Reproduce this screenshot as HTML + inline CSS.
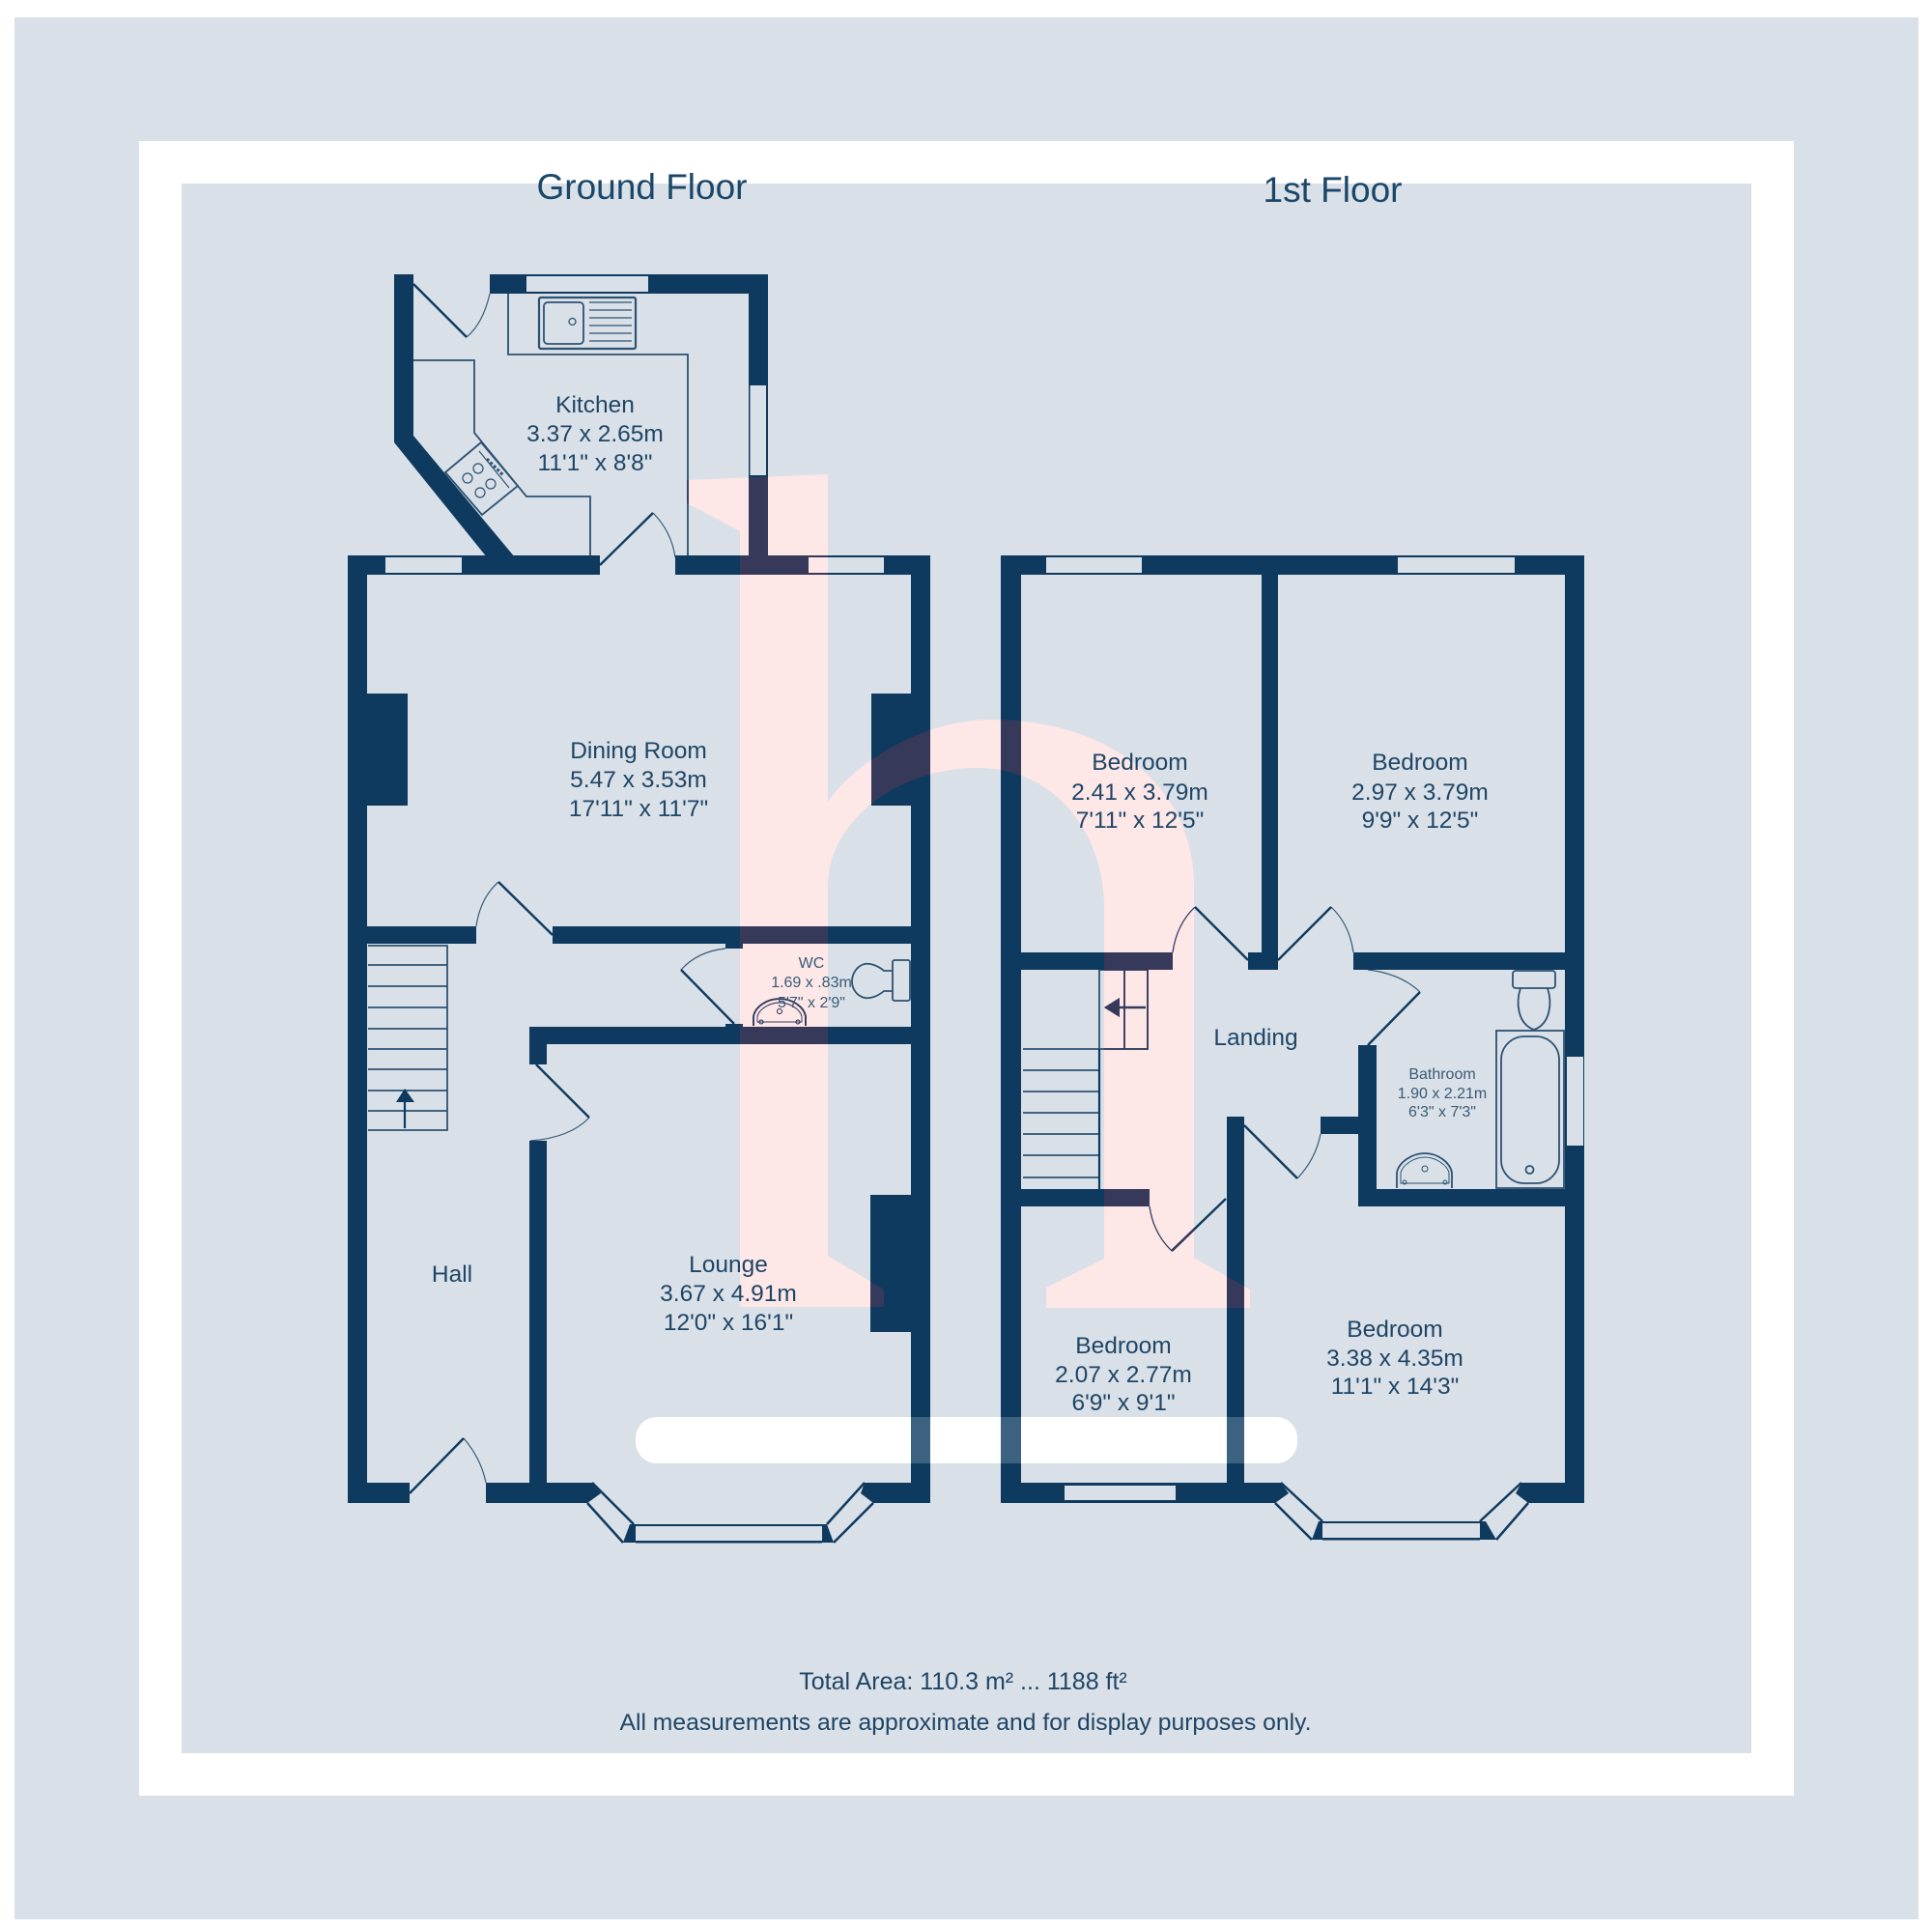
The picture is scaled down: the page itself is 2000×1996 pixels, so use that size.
<!DOCTYPE html>
<html><head><meta charset="utf-8"><style>
html,body{margin:0;padding:0;background:#fff}
svg{display:block}
text{font-family:"Liberation Sans",sans-serif;fill:#1f4566;text-anchor:middle;font-size:24.5px}
.s{font-size:16px;fill:#3a5a76}
.h{font-size:37px;fill:#1a4668}
</style></head><body>
<svg xmlns="http://www.w3.org/2000/svg" width="2000" height="1996" viewBox="0 0 2000 1996">
<defs>
<clipPath id="logo"><path id="logoP" d="M711,497 L857,491 V830 C880,795 950,745 1026,745 C1150,745 1236,815 1236,917 V1302 L1294,1335 V1354 H1083 V1333 L1143,1303 V940 C1143,860 1090,795 1012,795 C930,795 857,850 857,917 V1300 L915,1335 V1353 H766 V550 L711,521 Z"/></clipPath>
<clipPath id="pill"><rect x="658" y="1467" width="685" height="48" rx="22" ry="22"/></clipPath>
<g id="walls">
<g fill="currentColor">
<!-- kitchen -->
<polygon points="408,284 428,284 428,451 533,577 504,577 408,458"/>
<rect x="507" y="284" width="288" height="2"/>
<rect x="507" y="284" width="38" height="20"/>
<rect x="671" y="284" width="124" height="20"/>
<rect x="545" y="302" width="126" height="2"/>
<rect x="775" y="284" width="20" height="115"/>
<rect x="775" y="492" width="20" height="85"/>
<rect x="775" y="399" width="1.5" height="93"/><rect x="793" y="399" width="2" height="93"/>
<!-- ground top wall -->
<rect x="360" y="575" width="39" height="20"/>
<rect x="478" y="575" width="143" height="20"/>
<rect x="699" y="575" width="138" height="20"/>
<rect x="915" y="575" width="48" height="20"/>
<rect x="399" y="575" width="79" height="2"/><rect x="399" y="593" width="79" height="2"/>
<rect x="837" y="575" width="78" height="2"/><rect x="837" y="593" width="78" height="2"/>
<!-- ground outer walls -->
<rect x="360" y="575" width="20" height="981"/>
<rect x="943" y="575" width="20" height="981"/>
<rect x="380" y="718" width="42" height="116"/>
<rect x="902" y="718" width="41" height="116"/>
<rect x="901" y="1237" width="42" height="142"/>
<!-- internal ground -->
<rect x="380" y="959" width="113" height="18"/>
<rect x="572" y="959" width="371" height="18"/>
<rect x="751" y="977" width="18" height="5"/>
<rect x="751" y="1060" width="18" height="3"/>
<rect x="548" y="1063" width="395" height="18"/>
<rect x="548" y="1081" width="18" height="21"/>
<rect x="548" y="1181" width="18" height="354"/>
<!-- ground bottom -->
<rect x="360" y="1535" width="64" height="21"/>
<polygon points="503,1535 613,1535 622,1546 608,1556 503,1556"/>
<polygon points="652,1578 658,1578 658,1597 645,1597"/>
<rect x="658" y="1578" width="193" height="2"/><rect x="658" y="1595" width="193" height="2.5"/>
<polygon points="851,1578 856,1578 863,1597 851,1597"/>
<polygon points="895,1535 963,1535 963,1556 904,1556 891,1546"/>
<!-- first floor outer -->
<rect x="1036" y="575" width="47" height="20"/>
<rect x="1182" y="575" width="265" height="20"/>
<rect x="1568" y="575" width="72" height="20"/>
<rect x="1083" y="575" width="99" height="2"/><rect x="1083" y="593" width="99" height="2"/>
<rect x="1447" y="575" width="121" height="2"/><rect x="1447" y="593" width="121" height="2"/>
<rect x="1036" y="575" width="21" height="981"/>
<rect x="1620" y="575" width="20" height="519"/>
<rect x="1620" y="1186" width="20" height="370"/>
<rect x="1620" y="1094" width="2" height="92"/><rect x="1639" y="1094" width="1" height="92"/>
<rect x="1306" y="575" width="17" height="429"/>
<rect x="1292" y="986" width="31" height="18"/>
<rect x="1057" y="986" width="157" height="18"/>
<rect x="1401" y="986" width="219" height="18"/>
<rect x="1406" y="1082" width="19" height="167"/>
<rect x="1367" y="1156" width="39" height="18"/>
<rect x="1406" y="1231" width="214" height="18"/>
<rect x="1270" y="1156" width="18" height="400"/>
<rect x="1057" y="1231" width="133" height="18"/>
<!-- first bottom -->
<rect x="1036" y="1535" width="66" height="21"/>
<rect x="1102" y="1535" width="115" height="3"/><rect x="1102" y="1553" width="115" height="3"/>
<polygon points="1217,1535 1326,1535 1334,1546 1320,1556 1217,1556"/>
<polygon points="1365,1575 1369,1575 1369,1594 1358,1594"/>
<rect x="1369" y="1575" width="163" height="2"/><rect x="1369" y="1592" width="163" height="2.5"/>
<polygon points="1532,1575 1538,1575 1549,1594 1532,1594"/>
<polygon points="1575,1535 1640,1535 1640,1556 1582,1556 1569,1546"/>
<!-- stair arrows -->
<polygon points="419,1127 410,1141 429,1141"/>
<polygon points="1143,1043 1159,1033 1159,1053"/>
</g>
<g fill="none" stroke="currentColor">
<path stroke-width="2.5" d="M613,1535 L656,1578 M608,1556 L645,1597 M904,1556 L863,1597 M895,1535 L856,1578 M1326,1535 L1369,1575 M1320,1556 L1358,1594 M1582,1556 L1549,1594 M1575,1535 L1532,1575"/>
<!-- door leaves -->
<path stroke-width="2.4" d="M428,294 L483,349 M621,585 L676,531 M572,968 L516,913 M760,1060 L705,1004 M555,1102 L610,1157 M424,1546 L480,1489 M1292,994 L1237,939 M1323,994 L1378,939 M1416,1082 L1470,1027 M1288,1165 L1343,1220 M1269,1241 L1213,1295"/>
<path stroke-width="2.2" d="M419,1168 V1141 M1186,1043 H1159 M1138,1086 V1231"/>
</g>
<g fill="none" stroke="currentColor" stroke-width="1.2" opacity=".8">
<path d="M483,349 Q500,335 507,304 M676,531 Q695,550 699,577 M516,913 Q497,930 493,959 M705,1004 Q722,985 751,982 M610,1157 Q590,1178 549,1181 M480,1489 Q498,1510 503,1535 M1237,939 Q1218,957 1214,986 M1378,939 Q1397,957 1401,986 M1470,1027 Q1450,1008 1416,1004 M1343,1220 Q1362,1200 1367,1174 M1213,1295 Q1194,1277 1190,1249"/>
</g>
<g fill="none" stroke="currentColor" stroke-width="1.8" opacity=".85">
<!-- kitchen units -->
<path d="M526,304 V367 H712 V575 M428,373 H491 V448 L545,514 H611 V577"/>
<polygon points="498,458 461,489 499,533 536,503"/>
<circle cx="495" cy="485" r="5" stroke-width="1.2"/><circle cx="484" cy="495" r="5" stroke-width="1.2"/><circle cx="508" cy="501" r="5" stroke-width="1.2"/><circle cx="497" cy="510" r="5" stroke-width="1.2"/>
<path d="M496,467 L527,505" stroke-width="1.2"/>
<path d="M504,475 L521,492" stroke-width="3" stroke-dasharray="3 2"/>
<rect x="558" y="308" width="100" height="53" rx="2" stroke-width="2.2"/>
<rect x="563" y="313" width="41" height="43" rx="4"/>
<circle cx="592.5" cy="333" r="3.5" stroke-width="1.3"/>
<path d="M610,313 H654 M610,321 H654 M610,329 H654 M610,337 H654 M610,345 H654 M610,353 H654" stroke-width="1.2"/>
<!-- ground stairs -->
<path d="M381,979 H463 V1170 H381 M381,999 H463 M381,1021 H463 M381,1043 H463 M381,1065 H463 M381,1086 H463 M381,1107 H463 M381,1129 H463 M381,1150 H463"/>
<!-- WC fittings -->
<rect x="924" y="994" width="18" height="42" rx="2"/>
<path d="M924,1005 L915,1005 C908,999 900,997 895,998 C887,1000 882,1008 882,1016 C882,1024 887,1031 895,1033 C900,1034 908,1032 915,1026 L924,1026"/>
<path d="M780,1062 V1052 C782,1042 794,1034 807,1034 C820,1034 832,1042 834,1052 V1062"/>
<path d="M784,1058 V1052 C786,1045 796,1038 807,1038 C818,1038 828,1045 830,1052 V1058 Z" stroke-width="1"/>
<circle cx="807" cy="1047" r="2.5" stroke-width="1"/><circle cx="788" cy="1058" r="2" stroke-width="1"/><circle cx="826" cy="1058" r="2" stroke-width="1"/>
<!-- first stairs -->
<path d="M1138,1004 H1188 V1086 H1059 M1164,1004 V1086 M1138,1004 V1086 M1059,1108 H1138 M1059,1130 H1138 M1059,1152 H1138 M1059,1174 H1138 M1059,1196 H1138 M1059,1219 H1138"/>
<!-- bathroom -->
<rect x="1566" y="1005" width="44" height="18" rx="3"/>
<path d="M1574,1023 C1569,1038 1571,1060 1588,1066 C1605,1060 1607,1038 1602,1023"/>
<rect x="1549" y="1067" width="70" height="163"/>
<rect x="1554" y="1073" width="60" height="152" rx="24"/>
<circle cx="1583.5" cy="1211" r="4"/>
<path d="M1446,1230 V1214 C1448,1203 1462,1194 1475,1194 C1488,1194 1501,1203 1503,1214 V1230"/>
<path d="M1450,1225 V1214 C1452,1206 1464,1198 1475,1198 C1486,1198 1498,1206 1500,1214 V1225 Z" stroke-width="1"/>
<circle cx="1475" cy="1210" r="3" stroke-width="1"/><circle cx="1454" cy="1224" r="2" stroke-width="1"/><circle cx="1496" cy="1224" r="2" stroke-width="1"/>
</g>
</g>
</defs>

<rect width="2000" height="1996" fill="#fff"/>
<rect x="15" y="18" width="1971" height="1969" fill="#d9e0e7"/>
<rect x="144" y="146" width="1713" height="1713" fill="#fff"/>
<rect x="188" y="190" width="1625" height="1625" fill="#d9e0e7"/>

<use href="#logoP" fill="#fde7e7"/>
<rect x="658" y="1467" width="685" height="48" rx="22" ry="22" fill="#fff"/>

<use href="#walls" style="color:#0f3a5f"/>
<g clip-path="url(#logo)"><use href="#walls" style="color:#36395a"/></g>
<g clip-path="url(#pill)"><use href="#walls" style="color:#3d6180"/></g>

<text class="h" x="664.5" y="206">Ground Floor</text>
<text class="h" x="1379.5" y="209">1st Floor</text>

<text x="616" y="427">Kitchen</text><text x="616" y="457">3.37 x 2.65m</text><text x="616" y="487">11'1" x 8'8"</text>
<text x="661" y="785">Dining Room</text><text x="661" y="815">5.47 x 3.53m</text><text x="661" y="845">17'11" x 11'7"</text>
<text class="s" x="840" y="1002">WC</text><text class="s" x="840" y="1022">1.69 x .83m</text><text class="s" x="840" y="1043">5'7" x 2'9"</text>
<text x="468" y="1327">Hall</text>
<text x="754" y="1317">Lounge</text><text x="754" y="1347">3.67 x 4.91m</text><text x="754" y="1377">12'0" x 16'1"</text>
<text x="1180" y="797">Bedroom</text><text x="1180" y="828">2.41 x 3.79m</text><text x="1180" y="857">7'11" x 12'5"</text>
<text x="1470" y="797">Bedroom</text><text x="1470" y="828">2.97 x 3.79m</text><text x="1470" y="857">9'9" x 12'5"</text>
<text x="1300" y="1082">Landing</text>
<text class="s" x="1493" y="1117">Bathroom</text><text class="s" x="1493" y="1137">1.90 x 2.21m</text><text class="s" x="1493" y="1156">6'3" x 7'3"</text>
<text x="1163" y="1401">Bedroom</text><text x="1163" y="1431">2.07 x 2.77m</text><text x="1163" y="1460">6'9" x 9'1"</text>
<text x="1444" y="1384">Bedroom</text><text x="1444" y="1414">3.38 x 4.35m</text><text x="1444" y="1443">11'1" x 14'3"</text>

<text x="997" y="1749" style="font-size:25px">Total Area: 110.3 m² ... 1188 ft²</text>
<text x="999.5" y="1791" textLength="716" lengthAdjust="spacingAndGlyphs">All measurements are approximate and for display purposes only.</text>
</svg>
</body></html>
